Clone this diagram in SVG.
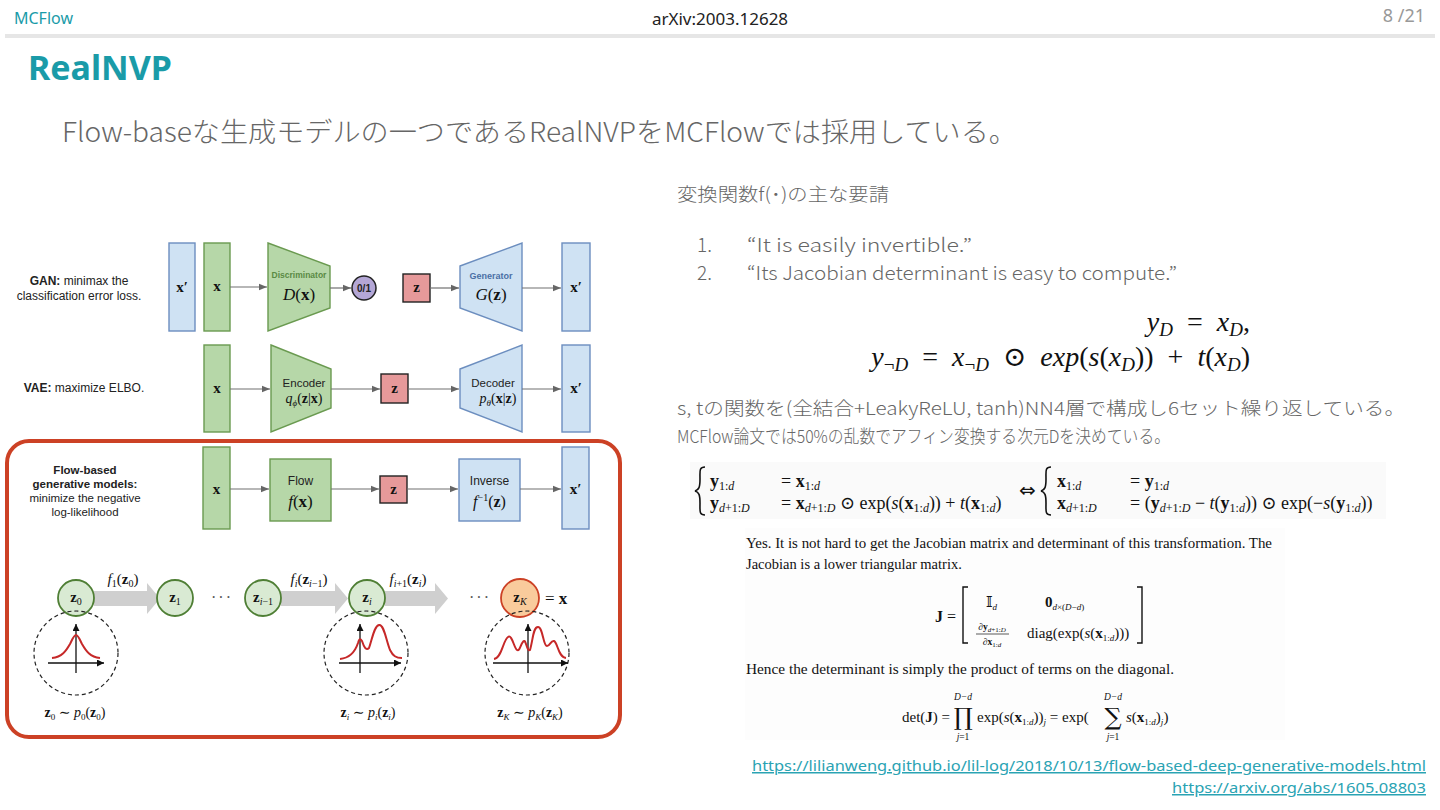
<svg xmlns="http://www.w3.org/2000/svg" width="1440" height="810" viewBox="0 0 1440 810">
<defs>
<marker id="ah" viewBox="0 0 10 10" refX="10" refY="5" markerWidth="8" markerHeight="8" orient="auto" markerUnits="userSpaceOnUse"><path d="M0,1 L10,5 L0,9 z" fill="#666"/></marker>
<marker id="axh" viewBox="0 0 10 10" refX="10" refY="5" markerWidth="7" markerHeight="7" orient="auto" markerUnits="userSpaceOnUse"><path d="M0,0 L10,5 L0,10 z" fill="#111"/></marker>
<style>
.jp{font-family:"Noto Sans CJK JP","Noto Sans",sans-serif;font-weight:300;fill:#666}
.sans{font-family:"Liberation Sans",Arial,sans-serif;fill:#222}
.serif{font-family:"Liberation Serif","Times New Roman","DejaVu Serif",serif;fill:#111}
.blue{fill:#cfe2f3;stroke:#6c8ebf;stroke-width:1.4}
.green{fill:#b6d7a8;stroke:#6a9a50;stroke-width:1.4}
.zbox{fill:#e6999a;stroke:#222;stroke-width:1.4}
.conn{stroke:#707070;stroke-width:1.2;fill:none;marker-end:url(#ah)}
.gar{fill:#cfcfcf}
.cg{fill:#d9ead3;stroke:#4f7f35;stroke-width:1.8}
.dash{fill:none;stroke:#222;stroke-width:1.2;stroke-dasharray:4 3}
.dist{fill:none;stroke:#c62828;stroke-width:2}
.ax{stroke:#111;stroke-width:1.3;marker-end:url(#axh)}
.gl{fill:#5a8a44;font-weight:bold}
.bl{fill:#4a6fa5;font-weight:bold}
.bigop{font-family:"DejaVu Serif",serif;fill:#111}
</style>
</defs>
<rect width="1440" height="810" fill="#ffffff"/>

<!-- header -->
<g id="header">
<text x="14" y="24" font-family="Noto Sans, sans-serif" font-size="16" fill="#1a9ba8">MCFlow</text>
<text x="720" y="25" text-anchor="middle" font-family="Noto Sans, sans-serif" font-size="17" fill="#222">arXiv:2003.12628</text>
<text x="1425" y="22" text-anchor="end" font-family="Noto Sans, sans-serif" font-size="18" fill="#999">8 /21</text>
<rect x="5" y="34" width="1430" height="4" fill="#e6e6e6"/>
<text x="28" y="80" font-family="Noto Sans, sans-serif" font-weight="bold" font-size="34" fill="#1a9ba8">RealNVP</text>
<text x="62" y="142" class="jp" font-size="27" textLength="955" lengthAdjust="spacingAndGlyphs">Flow-baseな生成モデルの一つであるRealNVPをMCFlowでは採用している。</text>
</g>

<!-- left diagram: labels -->
<g id="gan-label" class="sans" font-size="12" text-anchor="middle">
<text x="79" y="285"><tspan font-weight="bold">GAN:</tspan> minimax the</text>
<text x="79" y="300">classification error loss.</text>
</g>
<g id="vae-label" class="sans" font-size="12" text-anchor="middle">
<text x="84" y="392"><tspan font-weight="bold">VAE:</tspan> maximize ELBO.</text>
</g>
<g id="flow-label" class="sans" font-size="11.5" text-anchor="middle">
<text x="85" y="474" font-weight="bold">Flow-based</text>
<text x="85" y="488" font-weight="bold">generative models:</text>
<text x="85" y="502">minimize the negative</text>
<text x="85" y="516">log-likelihood</text>
</g>

<!-- GAN row -->
<g id="gan-xprime1"><rect class="blue" x="169" y="243" width="26" height="88"/><text class="serif" x="182" y="292" font-size="15" font-weight="bold" text-anchor="middle">x′</text></g>
<g id="gan-x"><rect class="green" x="204" y="243" width="26" height="88"/><text class="serif" x="217" y="291" font-size="15" font-weight="bold" text-anchor="middle">x</text></g>
<g id="gan-disc"><polygon class="green" points="268,243 330,266 330,308 268,331"/>
<text class="sans gl" x="299" y="278" font-size="8.5" text-anchor="middle">Discriminator</text>
<text class="serif" x="299" y="300" font-size="17" text-anchor="middle"><tspan font-style="italic">D</tspan>(<tspan font-weight="bold">x</tspan>)</text></g>
<g id="gan-out"><circle cx="364" cy="288" r="12" fill="#b4a7d6" stroke="#222" stroke-width="1.5"/><text class="sans" x="364" y="292" font-size="10" font-weight="bold" text-anchor="middle">0/1</text></g>
<g id="gan-z"><rect class="zbox" x="403" y="274" width="27" height="28"/><text class="serif" x="416.5" y="292" font-size="15" font-weight="bold" text-anchor="middle">z</text></g>
<g id="gan-gen"><polygon class="blue" points="460,266 522,243 522,331 460,308"/>
<text class="sans bl" x="491" y="279" font-size="9" text-anchor="middle">Generator</text>
<text class="serif" x="491" y="300" font-size="17" text-anchor="middle"><tspan font-style="italic">G</tspan>(<tspan font-weight="bold">z</tspan>)</text></g>
<g id="gan-xprime2"><rect class="blue" x="562" y="243" width="28" height="88"/><text class="serif" x="576" y="292" font-size="15" font-weight="bold" text-anchor="middle">x′</text></g>

<!-- VAE row -->
<g id="vae-x"><rect class="green" x="204" y="345" width="26" height="87"/><text class="serif" x="217" y="393" font-size="15" font-weight="bold" text-anchor="middle">x</text></g>
<g id="vae-enc"><polygon class="green" points="271,345 331,369 331,408 271,432"/>
<text class="sans" x="304" y="387" font-size="11.5" fill="#5a8a44" text-anchor="middle">Encoder</text>
<text class="serif" x="304" y="403" font-size="14" text-anchor="middle"><tspan font-style="italic">q</tspan><tspan font-size="9" font-style="italic" dy="3">ϕ</tspan><tspan dy="-3">(</tspan><tspan font-weight="bold">z</tspan>|<tspan font-weight="bold">x</tspan>)</text></g>
<g id="vae-z"><rect class="zbox" x="381" y="374" width="27" height="29"/><text class="serif" x="394.5" y="393" font-size="15" font-weight="bold" text-anchor="middle">z</text></g>
<g id="vae-dec"><polygon class="blue" points="460,369 522,345 522,432 460,408"/>
<text class="sans" x="493" y="387" font-size="11.5" fill="#4a6fa5" text-anchor="middle">Decoder</text>
<text class="serif" x="498" y="403" font-size="14" text-anchor="middle"><tspan font-style="italic">p</tspan><tspan font-size="9" font-style="italic" dy="3">θ</tspan><tspan dy="-3">(</tspan><tspan font-weight="bold">x</tspan>|<tspan font-weight="bold">z</tspan>)</text></g>
<g id="vae-xprime"><rect class="blue" x="562" y="345" width="28" height="87"/><text class="serif" x="576" y="393" font-size="15" font-weight="bold" text-anchor="middle">x′</text></g>

<!-- Flow highlight frame -->
<rect x="7" y="441" width="613" height="296" rx="22" fill="none" stroke="#cc4125" stroke-width="4"/>

<!-- Flow row -->
<g id="flow-x"><rect class="green" x="203" y="447" width="27" height="82"/><text class="serif" x="216.5" y="494" font-size="15" font-weight="bold" text-anchor="middle">x</text></g>
<g id="flow-f"><rect class="green" x="270" y="459" width="61" height="62"/>
<text class="sans" x="300.5" y="485" font-size="12" fill="#5a8a44" text-anchor="middle">Flow</text>
<text class="serif" x="300.5" y="507" font-size="17" text-anchor="middle"><tspan font-style="italic">f</tspan>(<tspan font-weight="bold">x</tspan>)</text></g>
<g id="flow-z"><rect class="zbox" x="380" y="476" width="27" height="27"/><text class="serif" x="393.5" y="494" font-size="15" font-weight="bold" text-anchor="middle">z</text></g>
<g id="flow-inv"><rect class="blue" x="459" y="459" width="61" height="62"/>
<text class="sans" x="489.5" y="485" font-size="12" fill="#4a6fa5" text-anchor="middle">Inverse</text>
<text class="serif" x="489.5" y="507" font-size="16" text-anchor="middle"><tspan font-style="italic">f</tspan><tspan font-size="10" dy="-6">−1</tspan><tspan dy="6">(</tspan><tspan font-weight="bold">z</tspan>)</text></g>
<g id="flow-xprime"><rect class="blue" x="562" y="447" width="27" height="82"/><text class="serif" x="575.5" y="494" font-size="15" font-weight="bold" text-anchor="middle">x′</text></g>

<!-- connectors -->
<g id="connectors">
<line class="conn" x1="230" y1="287" x2="267" y2="287"/>
<line class="conn" x1="330" y1="288" x2="351" y2="288"/>
<line class="conn" x1="430" y1="288" x2="459" y2="288"/>
<line class="conn" x1="522" y1="288" x2="561" y2="288"/>
<line class="conn" x1="230" y1="389" x2="270" y2="389"/>
<line class="conn" x1="331" y1="389" x2="380" y2="389"/>
<line class="conn" x1="408" y1="389" x2="459" y2="389"/>
<line class="conn" x1="522" y1="389" x2="561" y2="389"/>
<line class="conn" x1="230" y1="489" x2="269" y2="489"/>
<line class="conn" x1="331" y1="489" x2="379" y2="489"/>
<line class="conn" x1="407" y1="489" x2="458" y2="489"/>
<line class="conn" x1="520" y1="489" x2="561" y2="489"/>
<polygon class="gar" points="94,591 147,591 147,583 160,598.5 147,614 147,606 94,606"/>
<polygon class="gar" points="281,591 335,591 335,583 348,598.5 335,614 335,606 281,606"/>
<polygon class="gar" points="385,591 435,591 435,583 448,598.5 435,614 435,606 385,606"/>
</g>

<!-- chain labels -->
<g id="chain-labels" class="serif" font-size="15" text-anchor="middle">
<text x="123" y="584"><tspan font-style="italic">f</tspan><tspan font-size="10" dy="3">1</tspan><tspan dy="-3">(</tspan><tspan font-weight="bold">z</tspan><tspan font-size="10" dy="3">0</tspan><tspan dy="-3">)</tspan></text>
<text x="309" y="584"><tspan font-style="italic">f</tspan><tspan font-size="10" font-style="italic" dy="3">i</tspan><tspan dy="-3">(</tspan><tspan font-weight="bold">z</tspan><tspan font-size="10" font-style="italic" dy="3">i</tspan><tspan font-size="10">−1</tspan><tspan dy="-3">)</tspan></text>
<text x="408" y="584"><tspan font-style="italic">f</tspan><tspan font-size="10" font-style="italic" dy="3">i</tspan><tspan font-size="10">+1</tspan><tspan dy="-3">(</tspan><tspan font-weight="bold">z</tspan><tspan font-size="10" font-style="italic" dy="3">i</tspan><tspan dy="-3">)</tspan></text>
<text x="222" y="603" font-size="16" fill="#555" letter-spacing="2">···</text>
<text x="480" y="603" font-size="16" fill="#555" letter-spacing="2">···</text>
</g>

<g id="z0"><circle class="cg" cx="76" cy="598" r="18"/><text class="serif" x="76" y="602" font-size="15" text-anchor="middle"><tspan font-weight="bold">z</tspan><tspan font-size="10" dy="3">0</tspan></text></g>
<g id="z1"><circle class="cg" cx="175" cy="598" r="18"/><text class="serif" x="175" y="602" font-size="15" text-anchor="middle"><tspan font-weight="bold">z</tspan><tspan font-size="10" dy="3">1</tspan></text></g>
<g id="zim1"><circle class="cg" cx="263" cy="598" r="18"/><text class="serif" x="263" y="602" font-size="15" text-anchor="middle"><tspan font-weight="bold">z</tspan><tspan font-size="10" font-style="italic" dy="3">i</tspan><tspan font-size="10">−1</tspan></text></g>
<g id="zi"><circle class="cg" cx="367" cy="598" r="18"/><text class="serif" x="367" y="602" font-size="15" text-anchor="middle"><tspan font-weight="bold">z</tspan><tspan font-size="10" font-style="italic" dy="3">i</tspan></text></g>
<g id="zK"><circle cx="520" cy="598" r="19" fill="#f9cb9c" stroke="#cc4125" stroke-width="1.8"/><text class="serif" x="520" y="602" font-size="15" text-anchor="middle"><tspan font-weight="bold">z</tspan><tspan font-size="10" font-style="italic" dy="3">K</tspan></text>
<text class="serif" x="545" y="604" font-size="17">= <tspan font-weight="bold">x</tspan></text></g>

<!-- distributions -->
<g id="dist0">
<circle class="dash" cx="76" cy="653" r="42"/>
<line class="ax" x1="48" y1="663" x2="104" y2="663"/>
<line class="ax" x1="76" y1="673" x2="76" y2="624"/>
<path class="dist" d="M52,658 C62,657 66,651 70,644 C73,638 74,635 76,635 C78,635 79,638 82,644 C86,651 90,657 100,658"/>
<text class="serif" x="75" y="717" font-size="14" text-anchor="middle"><tspan font-weight="bold">z</tspan><tspan font-size="9" dy="3">0</tspan><tspan dy="-3"> ∼ </tspan><tspan font-style="italic">p</tspan><tspan font-size="9" dy="3">0</tspan><tspan dy="-3">(</tspan><tspan font-weight="bold">z</tspan><tspan font-size="9" dy="3">0</tspan><tspan dy="-3">)</tspan></text>
</g>
<g id="disti">
<circle class="dash" cx="366" cy="653" r="42"/>
<line class="ax" x1="339" y1="663" x2="401" y2="663"/>
<line class="ax" x1="360" y1="673" x2="360" y2="624"/>
<path class="dist" d="M340,659 C350,658 355,652 358,643 C359,639 360,638 362,641 C364,647 366,651 369,648 C372,640 374,626 379,625 C384,624 386,640 390,650 C393,656 396,658 402,658"/>
<text class="serif" x="368" y="717" font-size="14" text-anchor="middle"><tspan font-weight="bold">z</tspan><tspan font-size="9" font-style="italic" dy="3">i</tspan><tspan dy="-3"> ∼ </tspan><tspan font-style="italic">p</tspan><tspan font-size="9" font-style="italic" dy="3">i</tspan><tspan dy="-3">(</tspan><tspan font-weight="bold">z</tspan><tspan font-size="9" font-style="italic" dy="3">i</tspan><tspan dy="-3">)</tspan></text>
</g>
<g id="distK">
<circle class="dash" cx="527" cy="653" r="42"/>
<line class="ax" x1="493" y1="663" x2="568" y2="663"/>
<line class="ax" x1="528" y1="673" x2="528" y2="624"/>
<path class="dist" d="M494,659 C502,658 503,640 508,637 C512,634 514,648 517,650 C520,652 521,642 524,641 C526,640 527,652 530,650 C533,640 533,627 538,627 C543,627 543,646 547,646 C550,646 551,640 554,641 C558,643 558,657 566,658"/>
<text class="serif" x="530" y="717" font-size="14" text-anchor="middle"><tspan font-weight="bold">z</tspan><tspan font-size="9" font-style="italic" dy="3">K</tspan><tspan dy="-3"> ∼ </tspan><tspan font-style="italic">p</tspan><tspan font-size="9" font-style="italic" dy="3">K</tspan><tspan dy="-3">(</tspan><tspan font-weight="bold">z</tspan><tspan font-size="9" font-style="italic" dy="3">K</tspan><tspan dy="-3">)</tspan></text>
</g>

<!-- right side text -->
<g id="requirements">
<text class="jp" x="677" y="201" font-size="18" textLength="212" lengthAdjust="spacingAndGlyphs">変換関数f(･)の主な要請</text>
<text class="jp" x="697" y="252" font-size="19">1.</text>
<text class="jp" x="747" y="252" font-size="19" textLength="225" lengthAdjust="spacingAndGlyphs">“It is easily invertible.”</text>
<text class="jp" x="697" y="280" font-size="19">2.</text>
<text class="jp" x="747" y="280" font-size="19" textLength="430" lengthAdjust="spacingAndGlyphs">“Its Jacobian determinant is easy to compute.”</text>
</g>

<g id="coupling-eq" class="serif" font-size="28" text-anchor="end" word-spacing="7">
<text x="1250" y="331"><tspan font-style="italic">y</tspan><tspan font-size="19" font-style="italic" dy="5">D</tspan><tspan dy="-5"> = </tspan><tspan font-style="italic">x</tspan><tspan font-size="19" font-style="italic" dy="5">D</tspan><tspan dy="-5">,</tspan></text>
<text x="1250" y="366"><tspan font-style="italic">y</tspan><tspan font-size="19" dy="5">¬</tspan><tspan font-size="19" font-style="italic">D</tspan><tspan dy="-5"> = </tspan><tspan font-style="italic">x</tspan><tspan font-size="19" dy="5">¬</tspan><tspan font-size="19" font-style="italic">D</tspan><tspan dy="-5"> ⊙ </tspan><tspan font-style="italic">exp</tspan>(<tspan font-style="italic">s</tspan>(<tspan font-style="italic">x</tspan><tspan font-size="19" font-style="italic" dy="5">D</tspan><tspan dy="-5">)) + </tspan><tspan font-style="italic">t</tspan>(<tspan font-style="italic">x</tspan><tspan font-size="19" font-style="italic" dy="5">D</tspan><tspan dy="-5">)</tspan></text>
</g>

<g id="notes">
<text class="jp" x="677" y="415" font-size="18" textLength="728" lengthAdjust="spacingAndGlyphs">s, tの関数を(全結合+LeakyReLU, tanh)NN4層で構成し6セット繰り返している。</text>
<text class="jp" x="677" y="443" font-size="18" textLength="493" lengthAdjust="spacingAndGlyphs">MCFlow論文では50%の乱数でアフィン変換する次元Dを決めている。</text>
</g>

<!-- coupling layer block -->
<g id="coupling-block" class="serif" font-size="18">
<rect x="690" y="462" width="696" height="57" fill="#fafafa"/>
<path d="M705,467 C699,467 700,471 700,479 C700,487 699,490 695,491 C699,492 700,495 700,503 C700,511 699,515 705,515" fill="none" stroke="#111" stroke-width="1.6"/>
<text x="710" y="487"><tspan font-weight="bold">y</tspan><tspan font-size="12" dy="3">1:</tspan><tspan font-size="12" font-style="italic">d</tspan></text>
<text x="781" y="487">= <tspan font-weight="bold">x</tspan><tspan font-size="12" dy="3">1:</tspan><tspan font-size="12" font-style="italic">d</tspan></text>
<text x="710" y="509"><tspan font-weight="bold">y</tspan><tspan font-size="12" font-style="italic" dy="3">d</tspan><tspan font-size="12">+1:</tspan><tspan font-size="12" font-style="italic">D</tspan></text>
<text x="781" y="509">= <tspan font-weight="bold">x</tspan><tspan font-size="12" font-style="italic" dy="3">d</tspan><tspan font-size="12">+1:</tspan><tspan font-size="12" font-style="italic">D</tspan><tspan dy="-3"> ⊙ exp(</tspan><tspan font-style="italic">s</tspan>(<tspan font-weight="bold">x</tspan><tspan font-size="12" dy="3">1:</tspan><tspan font-size="12" font-style="italic">d</tspan><tspan dy="-3">)) + </tspan><tspan font-style="italic">t</tspan>(<tspan font-weight="bold">x</tspan><tspan font-size="12" dy="3">1:</tspan><tspan font-size="12" font-style="italic">d</tspan><tspan dy="-3">)</tspan></text>
<text x="1019" y="497" font-size="20" font-family="DejaVu Sans, sans-serif">⇔</text>
<path d="M1051,467 C1045,467 1046,471 1046,479 C1046,487 1045,490 1041,491 C1045,492 1046,495 1046,503 C1046,511 1045,515 1051,515" fill="none" stroke="#111" stroke-width="1.6"/>
<text x="1057" y="487"><tspan font-weight="bold">x</tspan><tspan font-size="12" dy="3">1:</tspan><tspan font-size="12" font-style="italic">d</tspan></text>
<text x="1130" y="487">= <tspan font-weight="bold">y</tspan><tspan font-size="12" dy="3">1:</tspan><tspan font-size="12" font-style="italic">d</tspan></text>
<text x="1057" y="509"><tspan font-weight="bold">x</tspan><tspan font-size="12" font-style="italic" dy="3">d</tspan><tspan font-size="12">+1:</tspan><tspan font-size="12" font-style="italic">D</tspan></text>
<text x="1130" y="509">= (<tspan font-weight="bold">y</tspan><tspan font-size="12" font-style="italic" dy="3">d</tspan><tspan font-size="12">+1:</tspan><tspan font-size="12" font-style="italic">D</tspan><tspan dy="-3"> − </tspan><tspan font-style="italic">t</tspan>(<tspan font-weight="bold">y</tspan><tspan font-size="12" dy="3">1:</tspan><tspan font-size="12" font-style="italic">d</tspan><tspan dy="-3">)) ⊙ exp(−</tspan><tspan font-style="italic">s</tspan>(<tspan font-weight="bold">y</tspan><tspan font-size="12" dy="3">1:</tspan><tspan font-size="12" font-style="italic">d</tspan><tspan dy="-3">))</tspan></text>
</g>

<!-- jacobian block -->
<g id="jacobian-block" class="serif" font-size="14.5">
<rect x="745" y="528" width="540" height="212" fill="#fdfdfd"/>
<text x="746" y="548" textLength="526" lengthAdjust="spacingAndGlyphs">Yes. It is not hard to get the Jacobian matrix and determinant of this transformation. The</text>
<text x="746" y="569">Jacobian is a lower triangular matrix.</text>
<text x="935" y="622" font-size="16"><tspan font-weight="bold">J</tspan> =</text>
<path d="M968,587 L963,587 L963,643 L968,643 M1137,587 L1142,587 L1142,643 L1137,643" fill="none" stroke="#111" stroke-width="1.4"/>
<text x="986" y="607" font-size="14">𝕀<tspan font-size="9" font-style="italic" dy="3">d</tspan></text>
<text x="1045" y="607" font-size="15"><tspan font-weight="bold">0</tspan><tspan font-size="9" dy="3"><tspan font-style="italic">d</tspan>×(<tspan font-style="italic">D</tspan>−<tspan font-style="italic">d</tspan>)</tspan></text>
<text x="992" y="630" font-size="9.5" text-anchor="middle">∂<tspan font-weight="bold">y</tspan><tspan font-size="7" font-style="italic" dy="2">d</tspan><tspan font-size="7">+1:</tspan><tspan font-size="7" font-style="italic">D</tspan></text>
<line x1="976" y1="634" x2="1009" y2="634" stroke="#111" stroke-width="0.7"/>
<text x="992" y="645" font-size="9.5" text-anchor="middle">∂<tspan font-weight="bold">x</tspan><tspan font-size="7" dy="2">1:</tspan><tspan font-size="7" font-style="italic">d</tspan></text>
<text x="1027" y="638" font-size="15">diag(exp(<tspan font-style="italic">s</tspan>(<tspan font-weight="bold">x</tspan><tspan font-size="9" dy="3">1:</tspan><tspan font-size="9" font-style="italic">d</tspan><tspan dy="-3">)))</tspan></text>
<text x="746" y="674" textLength="428" lengthAdjust="spacingAndGlyphs">Hence the determinant is simply the product of terms on the diagonal.</text>
<text x="902" y="722" font-size="15">det(<tspan font-weight="bold">J</tspan>) =</text>
<text class="bigop" x="963" y="725" font-size="24" text-anchor="middle">∏</text>
<text x="963" y="700" font-size="9.5" font-style="italic" text-anchor="middle">D−d</text>
<text x="963" y="740" font-size="9.5" text-anchor="middle"><tspan font-style="italic">j</tspan>=1</text>
<text x="977" y="722" font-size="15">exp(<tspan font-style="italic">s</tspan>(<tspan font-weight="bold">x</tspan><tspan font-size="9" dy="3">1:</tspan><tspan font-size="9" font-style="italic">d</tspan><tspan dy="-3">))</tspan><tspan font-size="9" font-style="italic" dy="3">j</tspan><tspan dy="-3"> = exp(</tspan></text>
<text class="bigop" x="1113" y="725" font-size="24" text-anchor="middle">∑</text>
<text x="1113" y="700" font-size="9.5" font-style="italic" text-anchor="middle">D−d</text>
<text x="1113" y="740" font-size="9.5" text-anchor="middle"><tspan font-style="italic">j</tspan>=1</text>
<text x="1126" y="722" font-size="15"><tspan font-style="italic">s</tspan>(<tspan font-weight="bold">x</tspan><tspan font-size="9" dy="3">1:</tspan><tspan font-size="9" font-style="italic">d</tspan><tspan dy="-3">)</tspan><tspan font-size="9" font-style="italic" dy="3">j</tspan><tspan dy="-3">)</tspan></text>
</g>

<!-- links -->
<g id="links" font-family="Noto Sans, sans-serif" font-size="15" fill="#2aa3b3" text-decoration="underline">
<text x="752" y="771" textLength="674" lengthAdjust="spacingAndGlyphs">https://lilianweng.github.io/lil-log/2018/10/13/flow-based-deep-generative-models.html</text>
<text x="1172" y="793" textLength="254" lengthAdjust="spacingAndGlyphs">https://arxiv.org/abs/1605.08803</text>
</g>
</svg>
